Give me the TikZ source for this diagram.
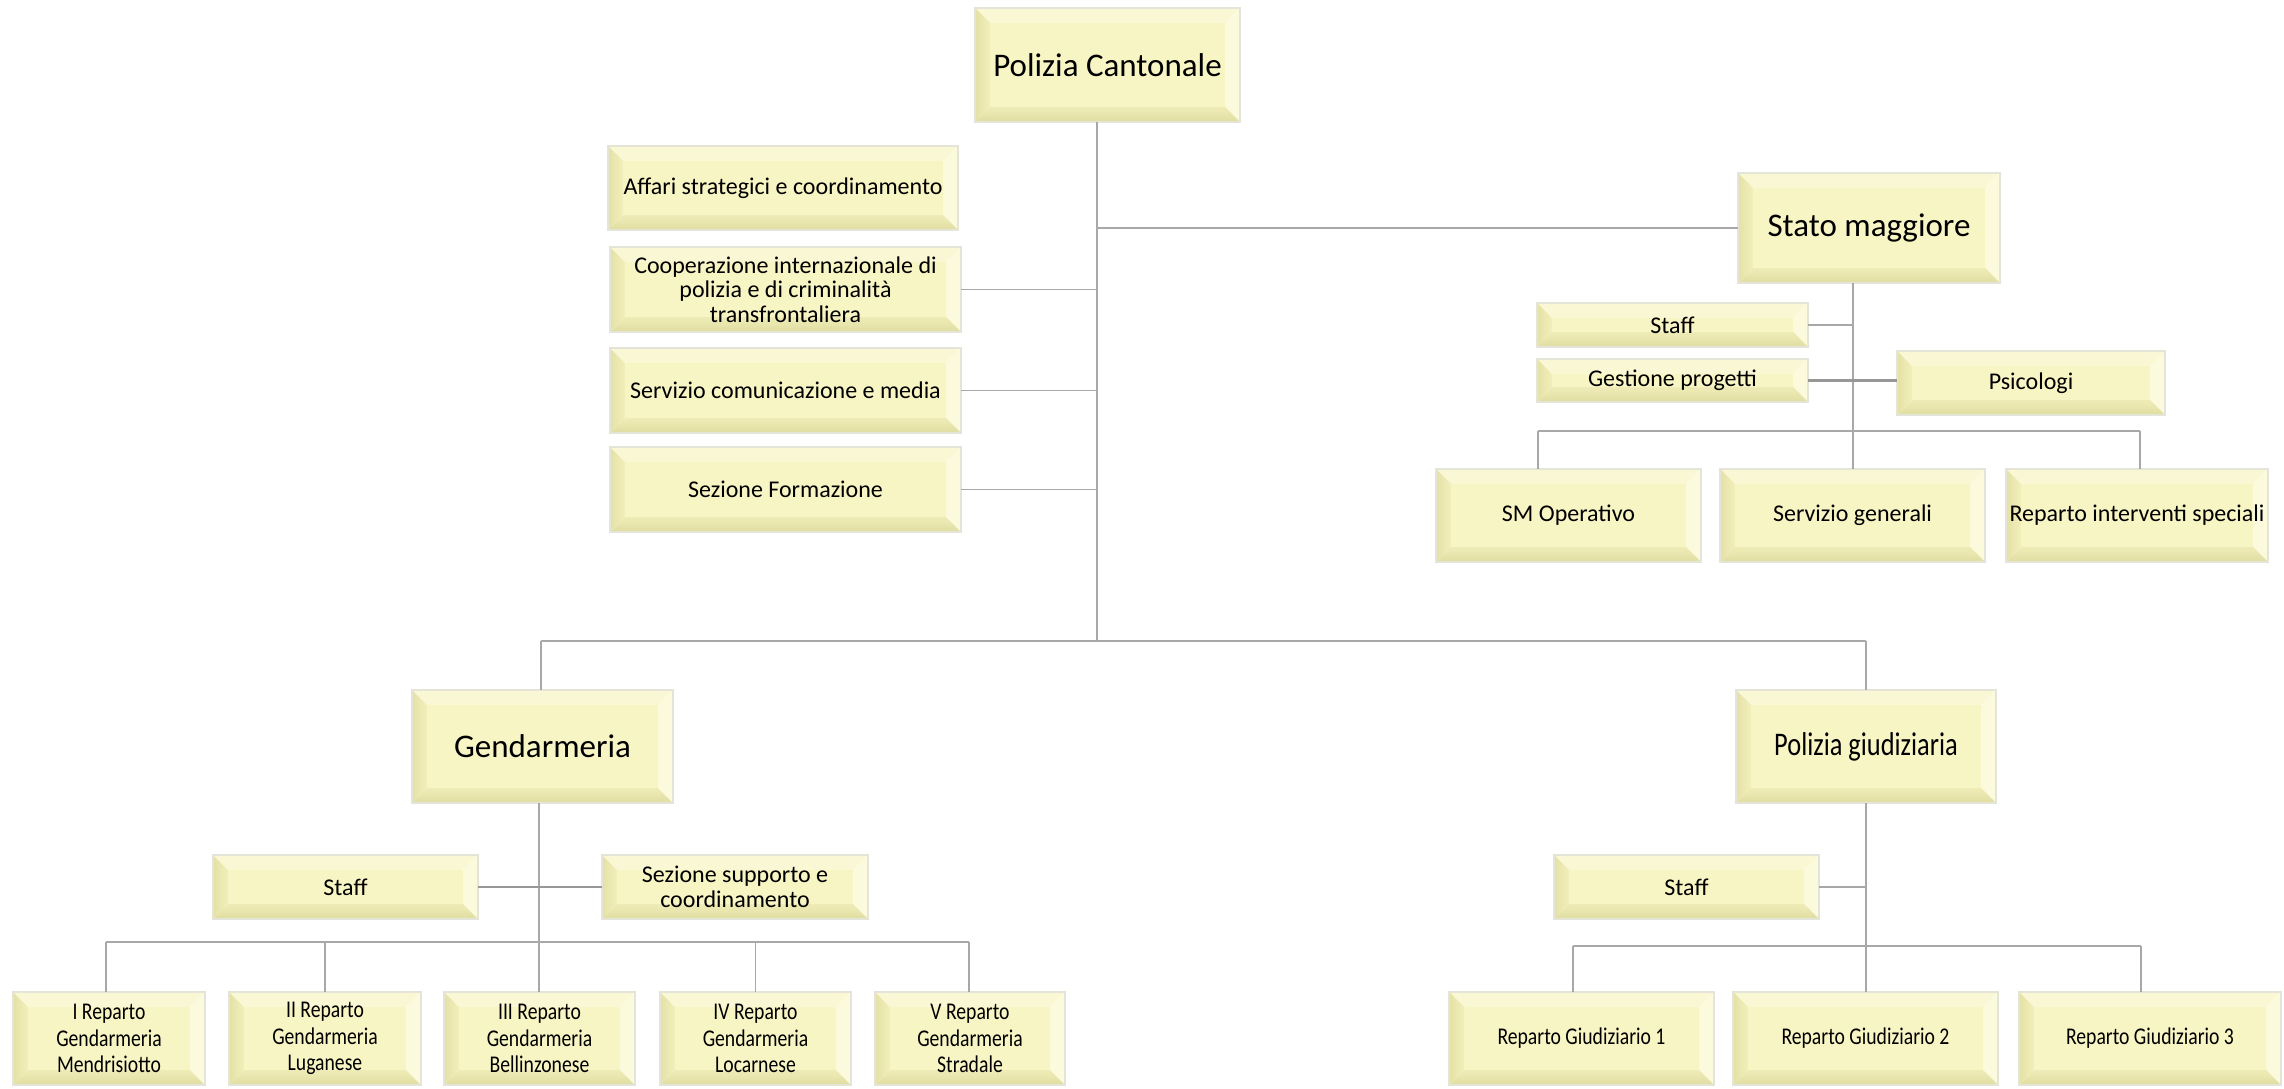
\documentclass[tikz,border=0pt]{standalone}
\usepackage{fontspec}
\setmainfont{Carlito}
\newfontfamily\condfont[FakeStretch=0.82]{Carlito}
\newfontfamily\condbfont[FakeStretch=0.8]{Carlito}
\definecolor{face}{HTML}{F8F5C4}
\definecolor{bevT}{HTML}{F9F7D4}
\definecolor{bevL}{HTML}{E4E1A6}
\definecolor{bevB}{HTML}{E0DDA2}
\definecolor{bevR}{HTML}{FBFADD}
\definecolor{edgec}{HTML}{E4E4D8}
\definecolor{conn}{HTML}{A8A8A8}
\newcommand{\fbig}{\fontsize{33}{40}\selectfont}
\newcommand{\fbigc}{\condbfont\fontsize{33}{40}\selectfont}
\newcommand{\fsmall}{\fontsize{24}{24.5}\selectfont}
\newcommand{\fsmallc}{\condfont\fontsize{24}{26.5}\selectfont}
\newcommand{\bv}{15}
\newcommand{\bbox}[7]{%
  \fill[bevT] (#2,#3) -- (#4,#3) -- (#4-\bv,#3+\bv) -- (#2+\bv,#3+\bv) -- cycle;
  \fill[bevR] (#4,#3) -- (#4,#5) -- (#4-\bv,#5-\bv) -- (#4-\bv,#3+\bv) -- cycle;
  \shade[left color=bevL, right color=face!70!bevL] (#2,#3) -- (#2+\bv,#3+\bv) -- (#2+\bv,#5-\bv) -- (#2,#5) -- cycle;
  \shade[top color=face!60!bevB, bottom color=bevB] (#2,#5) -- (#2+\bv,#5-\bv) -- (#4-\bv,#5-\bv) -- (#4,#5) -- cycle;
  \fill[face] (#2+\bv,#3+\bv) rectangle (#4-\bv,#5-\bv);
  \draw[edgec, line width=1.5] (#2,#3) rectangle (#4,#5);
  \node[boxtext, font=#6, minimum width={#4-#2}, minimum height={#5-#3}] (#1) at ({(#2+#4)/2},{(#3+#5)/2}) {#7};
}
\tikzset{
  boxtext/.style={draw=none, inner sep=0pt, align=center, text=black},
  link/.style={draw=conn, line width=1.6},
  thicklink/.style={draw=conn!90!black, line width=2.6}
}
\begin{document}
\begin{tikzpicture}[x=1pt, y=-1pt]
\useasboundingbox (0,0) rectangle (2284,1088);
% boxes
\bbox{root}{975}{8}{1240}{122}{\fbig}{Polizia Cantonale}
\bbox{aff}{608}{146}{958}{230}{\fsmall}{Affari strategici e coordinamento}
\bbox{coop}{610}{247}{961}{332}{\fsmall}{Cooperazione internazionale di\\polizia e di criminalità\\transfrontaliera}
\bbox{serv}{610}{348}{961}{433}{\fsmall}{Servizio comunicazione e media}
\bbox{form}{610}{447}{961}{532}{\fsmall}{Sezione Formazione}
\bbox{sm}{1738}{173}{2000}{283}{\fbig}{Stato maggiore}
\bbox{smstaff}{1537}{303}{1808}{347}{\fsmall}{Staff}
\bbox{gest}{1537}{359}{1808}{402}{\fsmall}{Gestione progetti}
\bbox{psi}{1897}{351}{2165}{415}{\fsmall}{Psicologi}
\bbox{smop}{1436}{469}{1701}{562}{\fsmall}{SM Operativo}
\bbox{sgen}{1720}{469}{1985}{562}{\fsmall}{Servizio generali}
\bbox{ris}{2006}{469}{2268}{562}{\fsmall}{Reparto interventi speciali}
\bbox{gend}{412}{690}{673}{803}{\fbig}{Gendarmeria}
\bbox{pg}{1736}{690}{1996}{803}{\fbigc}{Polizia giudiziaria}
\bbox{gstaff}{213}{855}{478}{919}{\fsmall}{Staff}
\bbox{gsup}{602}{855}{868}{919}{\fsmall}{Sezione supporto e\\coordinamento}
\bbox{r1}{13}{992}{205}{1085}{\fsmallc}{I Reparto\\Gendarmeria\\Mendrisiotto}
\bbox{r2}{229}{992}{421}{1085}{\fsmallc}{II Reparto\\Gendarmeria\\Luganese}
\bbox{r3}{444}{992}{635}{1085}{\fsmallc}{III Reparto\\Gendarmeria\\Bellinzonese}
\bbox{r4}{660}{992}{851}{1085}{\fsmallc}{IV Reparto\\Gendarmeria\\Locarnese}
\bbox{r5}{875}{992}{1065}{1085}{\fsmallc}{V Reparto\\Gendarmeria\\Stradale}
\bbox{pgstaff}{1554}{855}{1819}{919}{\fsmall}{Staff}
\bbox{rg1}{1449}{992}{1714}{1085}{\fsmallc}{Reparto Giudiziario 1}
\bbox{rg2}{1733}{992}{1998}{1085}{\fsmallc}{Reparto Giudiziario 2}
\bbox{rg3}{2019}{992}{2281}{1085}{\fsmallc}{Reparto Giudiziario 3}
% junction coordinates
\coordinate (trunkT) at (1097,122);
\coordinate (trunkB) at (1097,641);
\coordinate (busL) at (541,641);
\coordinate (busR) at (1866,641);
\coordinate (smT) at (1853,283);
\coordinate (smB) at (1853,431);
\coordinate (smbusL) at (1538,431);
\coordinate (smbusR) at (2140,431);
\coordinate (gT) at (539,803);
\coordinate (gbusL) at (106,942);
\coordinate (gbusR) at (969,942);
\coordinate (pgT) at (1866,803);
\coordinate (pgbusL) at (1573,946);
\coordinate (pgbusR) at (2141,946);
% main trunk
\draw[link] (trunkT) -- (trunkB);
\draw[link] (coop.east) -- (coop.east -| trunkT);
\draw[link] (serv.east) -- (serv.east -| trunkT);
\draw[link] (form.east) -- (form.east -| trunkT);
\draw[link] (trunkT |- sm.west) -- (sm.west);
\draw[link] (busL) -- (busR);
\draw[link] (busL) -- (busL |- gend.north);
\draw[link] (busR) -- (busR |- pg.north);
% Stato maggiore
\draw[link] (smT) -- (smB);
\draw[link] (smstaff.east) -- (smstaff.east -| smT);
\draw[thicklink] (gest.east) -- (gest.east -| psi.west);
\draw[link] (smbusL) -- (smbusR);
\draw[link] (smbusL) -- (smbusL |- smop.north);
\draw[link] (smB) -- (smB |- sgen.north);
\draw[link] (smbusR) -- (smbusR |- ris.north);
% Gendarmeria
\draw[link] (gT) -- (gT |- r3.north);
\draw[thicklink] (gstaff.east) -- (gstaff.east -| gsup.west);
\draw[link] (gbusL) -- (gbusR);
\draw[link] (gbusL) -- (gbusL |- r1.north);
\draw[link] (gbusL -| r2.north) -- (r2.north);
\draw[link] (gbusL -| r4.north) -- (r4.north);
\draw[link] (gbusR) -- (gbusR |- r5.north);
% Polizia giudiziaria
\draw[link] (pgT) -- (pgT |- rg2.north);
\draw[link] (pgstaff.east) -- (pgstaff.east -| pgT);
\draw[link] (pgbusL) -- (pgbusR);
\draw[link] (pgbusL) -- (pgbusL |- rg1.north);
\draw[link] (pgbusR) -- (pgbusR |- rg3.north);
\end{tikzpicture}
\end{document}
